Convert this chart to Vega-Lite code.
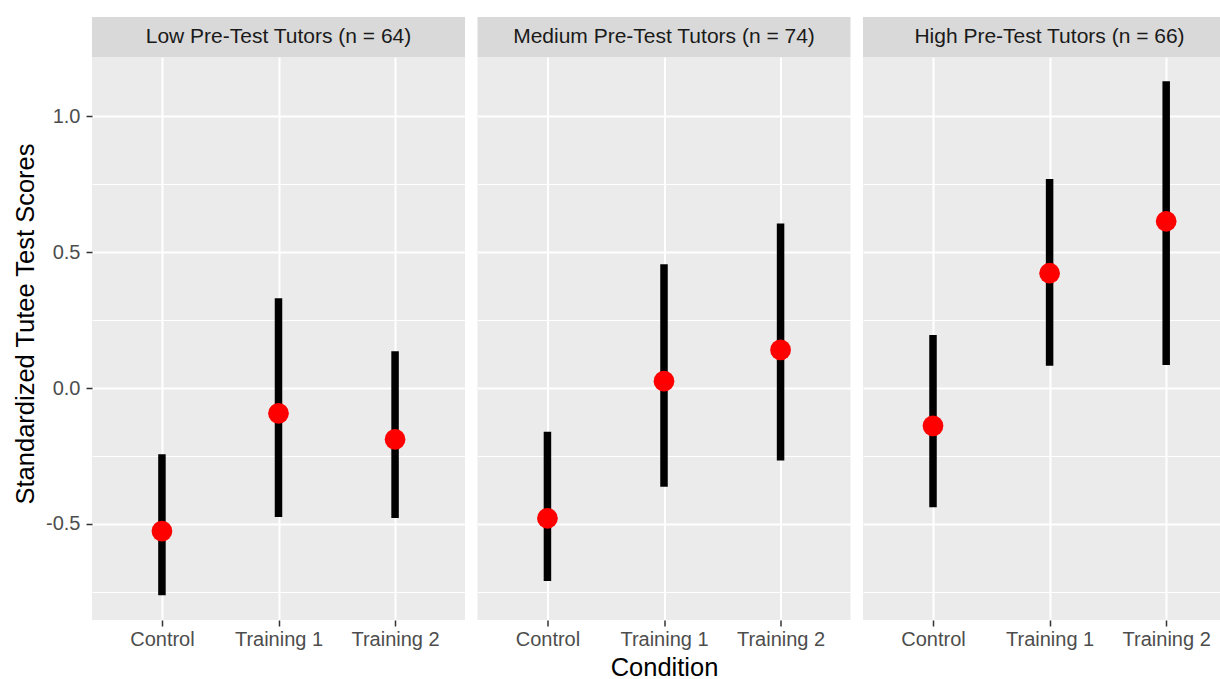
{
  "$schema": "https://vega.github.io/schema/vega-lite/v6.json",
  "background": "white",
  "padding": {"left": 13, "top": 17, "right": 0, "bottom": 0},
  "autosize": {"type": "pad"},
  "config": {
    "font": "Liberation Sans",
    "view": {"fill": "#EBEBEB", "stroke": null},
    "axis": {
      "domain": false,
      "gridColor": "#FFFFFF",
      "labelFont": "Liberation Sans",
      "labelFontSize": 20,
      "labelColor": "#4D4D4D",
      "tickColor": "#333333",
      "tickSize": 6,
      "tickWidth": 1.5,
      "titleFont": "Liberation Sans",
      "titleFontSize": 25.5,
      "titleColor": "#000000",
      "titleFontWeight": "normal"
    }
  },
  "datasets": {
    "panels": [
      {"group": "Low", "strip": "Low Pre-Test Tutors (n = 64)"},
      {"group": "Medium", "strip": "Medium Pre-Test Tutors (n = 74)"},
      {"group": "High", "strip": "High Pre-Test Tutors (n = 66)"}
    ],
    "scores": [
      {"group": "Low", "condition": "Control", "est": -0.526, "lo": -0.762, "hi": -0.244},
      {"group": "Low", "condition": "Training 1", "est": -0.093, "lo": -0.474, "hi": 0.330},
      {"group": "Low", "condition": "Training 2", "est": -0.189, "lo": -0.478, "hi": 0.135},
      {"group": "Medium", "condition": "Control", "est": -0.479, "lo": -0.710, "hi": -0.161},
      {"group": "Medium", "condition": "Training 1", "est": 0.025, "lo": -0.363, "hi": 0.455},
      {"group": "Medium", "condition": "Training 2", "est": 0.140, "lo": -0.267, "hi": 0.605},
      {"group": "High", "condition": "Control", "est": -0.139, "lo": -0.438, "hi": 0.195},
      {"group": "High", "condition": "Training 1", "est": 0.422, "lo": 0.082, "hi": 0.768},
      {"group": "High", "condition": "Training 2", "est": 0.613, "lo": 0.085, "hi": 1.128}
    ]
  },
  "columns": 3,
  "spacing": {"row": 0, "column": 12.5},
  "bounds": "flush",
  "align": "each",
  "concat": [
    {
      "width": 373, "height": 40,
      "view": {"fill": "#D9D9D9", "stroke": null},
      "data": {"name": "panels"},
      "transform": [{"filter": "datum.group === 'Low'"}],
      "mark": {"type": "text", "fontSize": 21, "color": "#1A1A1A", "baseline": "middle", "align": "center"},
      "encoding": {"text": {"field": "strip", "type": "nominal"}}
    },
    {
      "width": 373, "height": 40,
      "view": {"fill": "#D9D9D9", "stroke": null},
      "data": {"name": "panels"},
      "transform": [{"filter": "datum.group === 'Medium'"}],
      "mark": {"type": "text", "fontSize": 21, "color": "#1A1A1A", "baseline": "middle", "align": "center"},
      "encoding": {"text": {"field": "strip", "type": "nominal"}}
    },
    {
      "width": 357, "height": 40,
      "view": {"fill": "#D9D9D9", "stroke": null},
      "data": {"name": "panels"},
      "transform": [{"filter": "datum.group === 'High'"}],
      "mark": {"type": "text", "fontSize": 21, "color": "#1A1A1A", "baseline": "middle", "align": "center", "dx": 8},
      "encoding": {"text": {"field": "strip", "type": "nominal"}}
    },
    {
      "width": 373, "height": 563,
      "data": {"name": "scores"},
      "transform": [{"filter": "datum.group === 'Low'"}],
      "encoding": {
        "x": {
          "field": "condition", "type": "nominal",
          "sort": ["Control", "Training 1", "Training 2"],
          "scale": {"type": "point", "padding": 0.6},
          "axis": {"title": null, "labelAngle": 0, "grid": true, "gridWidth": 2, "labelPadding": 3}
        }
      },
      "layer": [
        {
          "mark": {"type": "rule", "strokeWidth": 7.5, "strokeCap": "butt", "color": "#000000"},
          "encoding": {
            "y": {
              "field": "lo", "type": "quantitative",
              "scale": {"domain": [-0.853, 1.217], "nice": false, "zero": false},
              "axis": {
                "title": "Standardized Tutee Test Scores",
                "values": [-0.75, -0.5, -0.25, 0, 0.25, 0.5, 0.75, 1],
                "labelExpr": "datum.value * 4 % 2 !== 0 ? '' : replace(format(datum.value, '.1f'), '\u2212', '-')",
                "labelOverlap": false,
                "grid": true,
                "gridWidth": {"condition": {"test": "datum.value * 4 % 2 !== 0", "value": 1}, "value": 2},
                "tickOpacity": {"condition": {"test": "datum.value * 4 % 2 !== 0", "value": 0}, "value": 1},
                "labelPadding": 6,
                "titlePadding": 7,
                "titleY": 266.5
              }
            },
            "y2": {"field": "hi"}
          }
        },
        {
          "mark": {"type": "circle", "size": 430, "color": "#FF0000", "opacity": 1, "strokeWidth": 0},
          "encoding": {"y": {"field": "est", "type": "quantitative"}}
        }
      ]
    },
    {
      "width": 373, "height": 563,
      "data": {"name": "scores"},
      "transform": [{"filter": "datum.group === 'Medium'"}],
      "encoding": {
        "x": {
          "field": "condition", "type": "nominal",
          "sort": ["Control", "Training 1", "Training 2"],
          "scale": {"type": "point", "padding": 0.6},
          "axis": {"title": "Condition", "labelAngle": 0, "grid": true, "gridWidth": 2, "labelPadding": 3, "titlePadding": 6}
        }
      },
      "layer": [
        {
          "mark": {"type": "rule", "strokeWidth": 7.5, "strokeCap": "butt", "color": "#000000"},
          "encoding": {
            "y": {
              "field": "lo", "type": "quantitative",
              "scale": {"domain": [-0.853, 1.217], "nice": false, "zero": false},
              "axis": {
                "title": null, "labels": false, "ticks": false,
                "values": [-0.75, -0.5, -0.25, 0, 0.25, 0.5, 0.75, 1],
                "grid": true,
                "gridWidth": {"condition": {"test": "datum.value * 4 % 2 !== 0", "value": 1}, "value": 2}
              }
            },
            "y2": {"field": "hi"}
          }
        },
        {
          "mark": {"type": "circle", "size": 430, "color": "#FF0000", "opacity": 1, "strokeWidth": 0},
          "encoding": {"y": {"field": "est", "type": "quantitative"}}
        }
      ]
    },
    {
      "width": 357, "height": 563,
      "data": {"name": "scores"},
      "transform": [{"filter": "datum.group === 'High'"}],
      "encoding": {
        "x": {
          "field": "condition", "type": "nominal",
          "sort": ["Control", "Training 1", "Training 2"],
          "scale": {"type": "point", "padding": 0.531, "align": 0.5654},
          "axis": {"title": null, "labelAngle": 0, "grid": true, "gridWidth": 2, "labelPadding": 3}
        }
      },
      "layer": [
        {
          "mark": {"type": "rule", "strokeWidth": 7.5, "strokeCap": "butt", "color": "#000000"},
          "encoding": {
            "y": {
              "field": "lo", "type": "quantitative",
              "scale": {"domain": [-0.853, 1.217], "nice": false, "zero": false},
              "axis": {
                "title": null, "labels": false, "ticks": false,
                "values": [-0.75, -0.5, -0.25, 0, 0.25, 0.5, 0.75, 1],
                "grid": true,
                "gridWidth": {"condition": {"test": "datum.value * 4 % 2 !== 0", "value": 1}, "value": 2}
              }
            },
            "y2": {"field": "hi"}
          }
        },
        {
          "mark": {"type": "circle", "size": 430, "color": "#FF0000", "opacity": 1, "strokeWidth": 0},
          "encoding": {"y": {"field": "est", "type": "quantitative"}}
        }
      ]
    }
  ]
}
